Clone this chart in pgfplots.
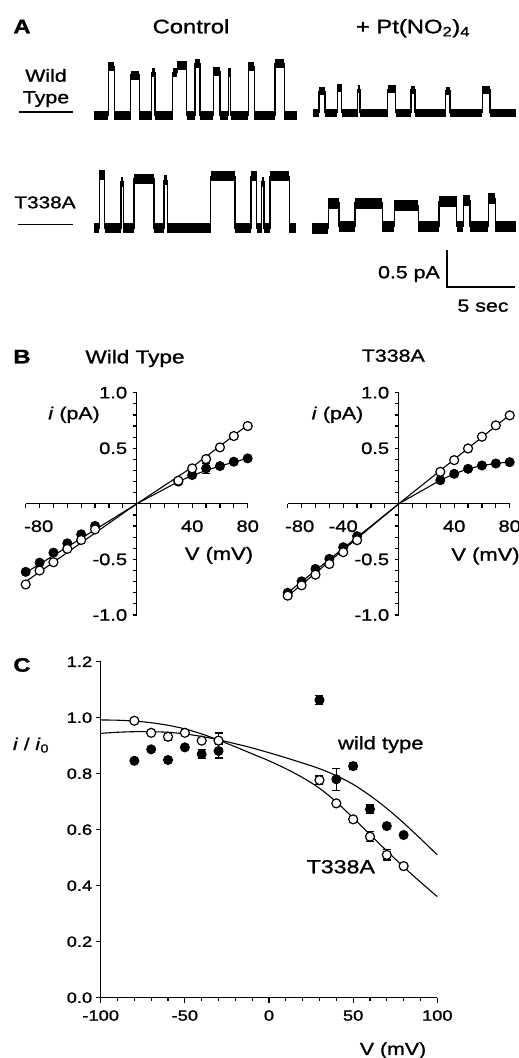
\documentclass[border=0pt]{standalone}
\usepackage{fontspec}
\setmainfont{Liberation Sans}[FakeStretch=1.22, FakeBold=1.2]
\usepackage{pgfplots}
\usepackage{pgfplotstable}
\pgfplotsset{compat=1.18}

% ---- panel A: single-channel records (t in s, i in pA, traces offset) ----
\pgfplotstableread{
t i
0 2.50
1.05 3.16
1.49 2.50
2.70 3.04
3.33 2.50
4.24 3.07
4.49 2.50
5.79 3.07
6.13 3.17
6.82 2.50
7.43 3.19
7.79 2.50
8.77 3.09
9.26 2.50
9.88 3.07
10.05 2.50
11.35 3.16
11.79 2.50
13.31 3.19
13.99 2.50
14.93 2.50
}\wtctl
\pgfplotstableread{
t i
16.13 2.53
16.54 2.82
16.99 2.53
17.89 2.86
18.21 2.53
19.39 2.85
19.56 2.53
21.60 2.85
22.18 2.53
23.31 2.84
23.60 2.53
25.86 2.83
26.18 2.53
28.55 2.84
29.12 2.53
31.01 2.53
}\wtpt
\pgfplotstableread{
t i
0 0.97
0.39 1.69
0.79 0.97
1.99 1.60
2.15 0.97
2.94 1.64
4.41 0.97
5.15 1.62
5.39 0.97
8.58 1.67
10.37 0.97
11.54 1.67
11.96 0.97
12.33 1.60
12.50 0.97
12.94 1.67
14.36 0.97
14.88 0.97
}\mutctl
\pgfplotstableread{
t i
16.05 0.97
17.23 1.31
18.01 1.00
19.19 1.31
21.20 0.99
22.08 1.28
23.85 0.99
25.37 1.33
26.67 0.99
27.15 1.35
27.65 0.99
28.99 1.37
29.49 0.99
31.01 0.99
}\mutpt

% ---- panel B: i-V ----
\pgfplotstableread{
V i
-80 -0.725
-70 -0.600
-60 -0.525
-50 -0.405
-40 -0.325
-30 -0.230
30 0.208
40 0.319
50 0.403
60 0.508
70 0.610
80 0.700
}\bwtctl
\pgfplotstableread{
V i
-80 -0.612
-70 -0.529
-60 -0.439
-50 -0.355
-40 -0.274
-30 -0.199
30 0.200
40 0.259
50 0.319
60 0.340
70 0.379
80 0.409
}\bwtpt
\pgfplotstableread{
V i
-80 -0.826
-70 -0.733
-60 -0.637
-50 -0.541
-40 -0.435
-30 -0.327
30 0.288
40 0.393
50 0.498
60 0.604
70 0.706
80 0.796
}\bmutctl
\pgfplotstableread{
V i
-80 -0.800
-70 -0.697
-60 -0.586
-50 -0.495
-40 -0.390
-30 -0.291
30 0.213
40 0.270
50 0.315
60 0.345
70 0.363
80 0.375
}\bmutpt

% ---- panel C: i/i0 ----
\pgfplotstableread{
V r
-80 0.846
-70 0.887
-60 0.849
-50 0.894
-40 0.870
-30 0.881
30 1.063
40 0.780
50 0.827
60 0.673
70 0.613
80 0.581
}\cwt
\pgfplotstableread{
V r e
-40 0.870 0.015
-30 0.881 0.025
30 1.063 0.015
40 0.780 0.039
50 0.827 0.012
60 0.673 0.015
70 0.613 0.010
}\cwterr
\pgfplotstableread{
V r
-80 0.989
-70 0.946
-60 0.932
-50 0.946
-40 0.918
-30 0.918
30 0.777
40 0.694
50 0.637
60 0.575
70 0.510
80 0.470
}\cmut
\pgfplotstableread{
V r e
-60 0.932 0.012
-30 0.918 0.027
30 0.777 0.015
50 0.637 0.010
60 0.575 0.018
70 0.510 0.018
}\cmuterr
\pgfplotstableread{
V r
-100 0.944
-90 0.948
-80 0.950
-70 0.950
-60 0.948
-50 0.942
-40 0.933
-30 0.921
-20 0.907
-10 0.892
0 0.875
10 0.857
20 0.838
30 0.818
40 0.793
50 0.762
60 0.722
70 0.676
80 0.624
90 0.568
100 0.510
}\cwtfit
\pgfplotstableread{
V r
-100 0.992
-90 0.991
-80 0.988
-70 0.982
-60 0.973
-50 0.960
-40 0.942
-30 0.920
-20 0.896
-10 0.871
0 0.846
10 0.818
20 0.786
30 0.748
40 0.699
50 0.642
60 0.583
70 0.524
80 0.467
90 0.413
100 0.361
}\cmutfit

\newcommand\fs[1]{\fontsize{#1}{#1}\selectfont}

\pgfplotsset{
  filled/.style={only marks, mark=*, mark size=4.5pt, mark options={fill=black, draw=black, line width=1pt}},
  open/.style={only marks, mark=*, mark size=4.5pt, mark options={fill=white, draw=black, line width=1.2pt}},
  ebar/.style={only marks, mark=none, forget plot,
    error bars/.cd, y dir=both, y explicit,
    error bar style={draw=black, line width=1.2pt},
    error mark options={rotate=90, mark size=4pt, line width=1.2pt, draw=black}},
  fit/.style={black, line width=1.1pt, mark=none},
  ivax/.style={anchor=south west, scale only axis,
    width=222pt, height=222.3pt, xmin=-80, xmax=80, ymin=-1, ymax=1,
    axis lines=middle, axis line style={-, line width=1.3pt}, tick align=outside,
    major tick length=4pt, minor tick length=4pt,
    tick style={black, line width=1.2pt},
    ticklabel style={font=\fs{16.5}},
    xticklabel style={anchor=north, yshift=-9pt},
    yticklabel style={xshift=-2pt},
    minor xtick={-70,-60,...,70},
    ytick={-1,-0.5,0.5,1}, yticklabels={-1.0,-0.5,0.5,1.0},
    minor ytick={-0.9,-0.8,-0.7,-0.6,-0.4,-0.3,-0.2,-0.1,0.1,0.2,0.3,0.4,0.6,0.7,0.8,0.9},
    clip=false}
}

\begin{document}
\begin{tikzpicture}[lbl/.style={anchor=base, inner sep=0pt}]
\useasboundingbox (0pt,0pt) rectangle (519pt,1058pt);

% ================= A =================
\begin{axis}[at={(94pt,758pt)}, anchor=south west, scale only axis,
  width=423pt, height=260pt, xmin=0, xmax=31.1, ymin=0, ymax=3.514,
  hide axis, clip=false]
\addplot[jump mark left, black, line width=9pt] table {\wtctl};
\addplot[const plot, black, line width=1.2pt] table {\wtctl};
\addplot[jump mark left, black, line width=8pt] table {\wtpt};
\addplot[const plot, black, line width=1.2pt] table {\wtpt};
\addplot[jump mark left, black, line width=10pt] table {\mutctl};
\addplot[const plot, black, line width=1.2pt] table {\mutctl};
\addplot[jump mark left, black, line width=11pt] table {\mutpt};
\addplot[const plot, black, line width=1.2pt] table {\mutpt};
% scale bar: 0.5 pA, 5 s
\addplot[black, line width=1.3pt] coordinates {(25.96,0.676) (25.96,0.176) (30.96,0.176)};
\end{axis}

\node[lbl, font=\bfseries\fs{19.5}] at (22pt,1024.7pt) {A};
\node[lbl, font=\fs{19.5}] at (191pt,1024.7pt) {Control};
\node[lbl, font=\fs{19.5}] at (413pt,1024.7pt) {+ Pt(NO\textsubscript{2})\textsubscript{4}};
\node[lbl, font=\fs{17.5}] at (46pt,976.3pt) {Wild};
\node[lbl, font=\fs{17.5}] at (46pt,954.7pt) {Type};
\draw[line width=1.2pt] (19pt,946pt) -- (73pt,946pt);
\node[lbl, font=\fs{17}] at (45pt,849.7pt) {T338A};
\draw[line width=0.8pt] (18pt,833.5pt) -- (73pt,833.5pt);
\node[lbl, anchor=base east, font=\fs{17.5}] at (440pt,779.7pt) {0.5 pA};
\node[lbl, font=\fs{17.5}] at (483pt,746.3pt) {5 sec};

% ================= B =================
\begin{axis}[ivax, at={(25.7pt,443pt)}, xtick={-80,40,80},
  xticklabels={\hspace*{26pt}-80,40,80}]
\addplot[fit] coordinates {(-80,-0.70) (0,0) (40,0.33) (80,0.71)};
\addplot[fit] coordinates {(-80,-0.62) (0,0) (30,0.20) (40,0.255) (50,0.30) (60,0.34) (70,0.375) (80,0.41)};
\addplot[ebar] coordinates {(50,0.319) +- (0,0.045)};
\addplot[filled] table {\bwtpt};
\addplot[open] table {\bwtctl};
\end{axis}

\begin{axis}[ivax, at={(287.7pt,443pt)}, xtick={-80,-40,40,80},
  xticklabels={\hspace*{24pt}-80,-40,40,80}]
\addplot[fit] coordinates {(-80,-0.83) (0,0) (80,0.80)};
\addplot[fit] coordinates {(-80,-0.80) (0,0) (30,0.213) (40,0.27) (50,0.315) (60,0.345) (70,0.363) (80,0.378)};
\addplot[filled] table {\bmutpt};
\addplot[open] table {\bmutctl};
\end{axis}

\node[lbl, font=\bfseries\fs{19.5}] at (22pt,694.7pt) {B};
\node[lbl, font=\fs{18.5}] at (135pt,694.7pt) {Wild Type};
\node[lbl, font=\fs{17.5}] at (393.3pt,696.3pt) {T338A};
\node[lbl, font=\fs{17.5}] at (74pt,638.7pt) {\textit{i} (pA)};
\node[lbl, font=\fs{17.5}] at (337.5pt,638.7pt) {\textit{i} (pA)};
\node[lbl, font=\fs{18}] at (219pt,498pt) {V (mV)};
\node[lbl, font=\fs{18}] at (485.5pt,497.3pt) {V (mV)};

% ================= C =================
\begin{axis}[at={(100.7pt,60.3pt)}, anchor=south west, scale only axis,
  width=336.6pt, height=336pt, xmin=-100, xmax=100, ymin=0, ymax=1.2,
  axis lines=left, axis line style={-, line width=1.3pt}, tick align=outside,
  major tick length=5pt, minor tick length=3.5pt,
  tick style={black, line width=1.2pt},
  ticklabel style={font=\fs{15}},
  xticklabel style={yshift=-4pt},
  xtick={-100,-50,0,50,100}, xticklabels={-100,-50,0,50,100},
  minor x tick num=4,
  ytick={0,0.2,0.4,0.6,0.8,1.0,1.2},
  yticklabels={0.0,0.2,0.4,0.6,0.8,1.0,1.2},
  clip=false]
\addplot[fit, smooth] table {\cwtfit};
\addplot[fit, smooth] table {\cmutfit};
\addplot[ebar] table[x=V, y=r, y error=e] {\cwterr};
\addplot[filled] table {\cwt};
\addplot[ebar] table[x=V, y=r, y error=e] {\cmuterr};
\addplot[open] table {\cmut};
\end{axis}

\node[lbl, font=\bfseries\fs{19.5}] at (22pt,386.3pt) {C};
\node[lbl, font=\fs{17}] at (31pt,308pt) {\textit{i} / \textit{i}\textsubscript{0}};
\node[lbl, font=\fs{18}] at (380.8pt,308.7pt) {wild type};
\node[lbl, font=\fs{19}] at (340.8pt,184.7pt) {T338A};
\node[lbl, font=\fs{17.5}] at (393pt,3pt) {V (mV)};
\end{tikzpicture}
\end{document}
